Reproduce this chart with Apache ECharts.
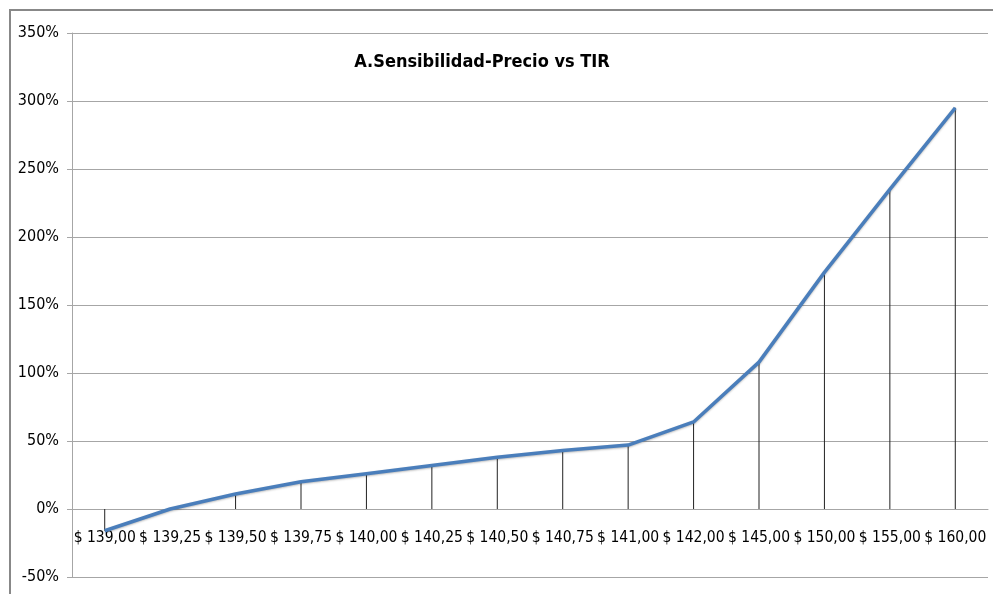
<!DOCTYPE html>
<html>
<head>
<meta charset="utf-8">
<script src="https://cdn.jsdelivr.net/npm/echarts@6/dist/echarts.min.js"></script>
<style>
  html, body { margin: 0; padding: 0; background: #fff; }
  #chart { width: 993px; height: 594px; }
</style>
</head>
<body>
<div id="chart"></div>
<script>
var precios = ['$ 139,00', '$ 139,25', '$ 139,50', '$ 139,75', '$ 140,00', '$ 140,25', '$ 140,50',
               '$ 140,75', '$ 141,00', '$ 142,00', '$ 145,00', '$ 150,00', '$ 155,00', '$ 160,00'];
var tir = [-16, 0, 11, 20, 26, 32, 38, 43, 47, 64, 108, 174, 235, 295];

var fuente = '"Liberation Sans Narrow", "DejaVu Sans Condensed", "Liberation Sans", Arial, sans-serif';

var myChart = echarts.init(document.getElementById('chart'));

option = {
    backgroundColor: '#fff',
    animation: false,
    title: {
        text: 'A.Sensibilidad-Precio vs TIR',
        left: 477,
        top: 48,
        textAlign: 'center',
        textStyle: { fontFamily: fuente, fontSize: 18, fontWeight: 'bold', color: '#000' }
    },
    graphic: [{
        type: 'rect',
        shape: { x: 10, y: 10, width: 1000, height: 600 },
        style: { fill: 'none', stroke: '#888', lineWidth: 2 },
        silent: true
    }],
    grid: { left: 72, right: 5, top: 33, bottom: 17, containLabel: false, outerBoundsMode: 'none' },
    xAxis: {
        type: 'category',
        data: precios,
        boundaryGap: true,
        position: 'bottom',
        // eje de categorias a la altura del 0%
        offset: -68,
        axisLine: { show: true, onZero: false, lineStyle: { color: '#a6a6a6' } },
        axisTick: { show: false },
        axisLabel: { interval: 0, margin: 21, fontFamily: fuente, fontSize: 15.5, color: '#000' }
    },
    yAxis: {
        type: 'value',
        min: -50,
        max: 350,
        interval: 50,
        axisLine: { show: true, lineStyle: { color: '#a6a6a6' } },
        axisTick: { show: true, length: 5, lineStyle: { color: '#a6a6a6' } },
        axisLabel: { formatter: '{value}%', margin: 13, fontFamily: fuente, fontSize: 16, color: '#000' },
        splitLine: { show: true, lineStyle: { color: '#a6a6a6', width: 1 } }
    },
    series: [{
        name: 'lineas',
        type: 'bar',
        data: tir,
        barWidth: 1,
        itemStyle: { color: '#222' },
        z: 1
    }, {
        name: 'TIR',
        type: 'line',
        data: tir,
        showSymbol: false,
        lineStyle: { color: '#4a7ebb', width: 3.5, shadowColor: 'rgba(0,0,0,0.25)', shadowBlur: 2, shadowOffsetY: 1 },
        z: 3
    }]
};

myChart.setOption(option);
</script>
</body>
</html>
